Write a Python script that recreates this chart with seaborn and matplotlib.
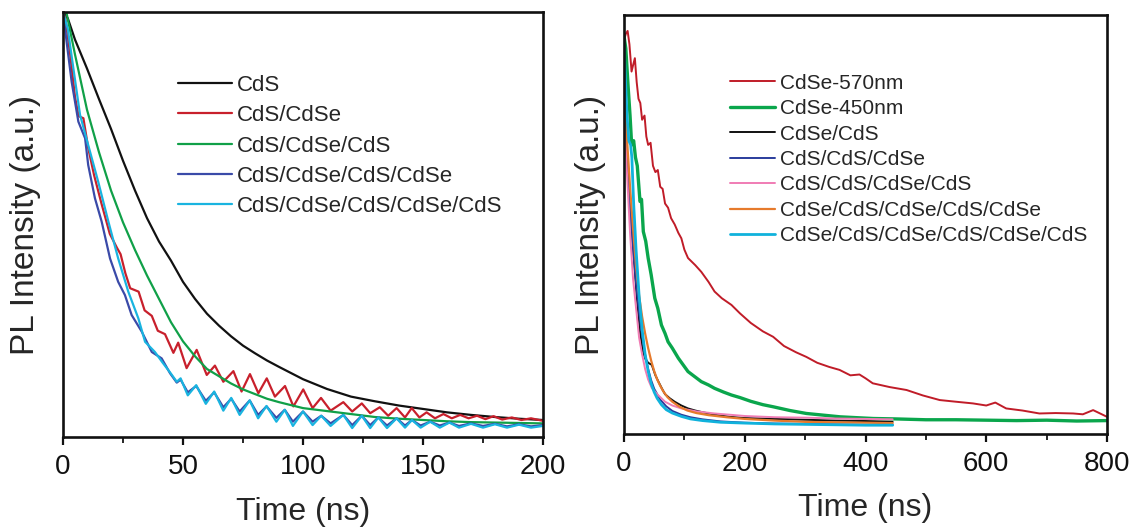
import numpy as np
import pandas as pd
import matplotlib
matplotlib.use("Agg")
import matplotlib.pyplot as plt
import seaborn as sns
from matplotlib.ticker import MultipleLocator, NullLocator

# ==============================================================
# data (intensity normalised to the axes height)
# ==============================================================
# left panel: CdS based shells, 0-200 ns
t_cds = [0, 2, 5, 10, 15, 20, 25, 30, 35, 40, 45, 50, 55, 60, 65, 70, 75, 80, 85, 90,
         100, 110, 120, 130, 140, 150, 160, 170, 180, 190, 200]
v_cds = [1.0, 0.985, 0.935, 0.867, 0.795, 0.725, 0.65, 0.58, 0.515, 0.46, 0.415, 0.365,
         0.325, 0.29, 0.262, 0.237, 0.215, 0.197, 0.18, 0.165, 0.136, 0.113, 0.095, 0.084,
         0.074, 0.066, 0.058, 0.052, 0.047, 0.043, 0.040]

t_cds_cdse = [0, 1, 3, 5, 6.5, 8.5, 10.5, 13, 16, 19.5, 22.5, 24, 26, 28, 31.5, 34, 37, 39.5,
              42.5, 46, 48, 51.5, 55.7, 59.9, 63.3, 66.8, 71, 74.4, 77.9, 81.4, 84.9, 88.3,
              92.5, 96, 100.1, 104, 107.5, 111.5, 116.8, 120.5, 124.5, 128, 132, 135.5, 139,
              142.5, 145.3, 148.5, 151.5, 155, 158.5, 162, 165.5, 169, 172.5, 176, 179.4, 183,
              187, 191, 195, 200]
v_cds_cdse = [1.0, 0.985, 0.90, 0.80, 0.755, 0.75, 0.68, 0.615, 0.55, 0.478, 0.445, 0.43,
              0.385, 0.35, 0.342, 0.298, 0.285, 0.25, 0.242, 0.198, 0.222, 0.162, 0.205, 0.146,
              0.168, 0.13, 0.155, 0.107, 0.148, 0.103, 0.138, 0.095, 0.12, 0.072, 0.112, 0.068,
              0.092, 0.062, 0.082, 0.06, 0.079, 0.056, 0.07, 0.05, 0.068, 0.046, 0.068, 0.046,
              0.058, 0.044, 0.054, 0.044, 0.052, 0.044, 0.05, 0.042, 0.049, 0.041, 0.046, 0.04,
              0.044, 0.038]

t_cds_cdse_cds = [0, 1.5, 5, 10, 15, 20, 25, 30, 35, 40, 45, 50, 55, 60, 65, 70, 75, 80, 85,
                  90, 95, 100, 110, 120, 130, 140, 150, 160, 170, 180, 190, 200]
v_cds_cdse_cds = [1.0, 0.997, 0.90, 0.77, 0.67, 0.58, 0.505, 0.44, 0.38, 0.325, 0.27, 0.225,
                  0.19, 0.16, 0.143, 0.126, 0.112, 0.101, 0.09, 0.082, 0.075, 0.068, 0.061,
                  0.054, 0.047, 0.043, 0.040, 0.037, 0.035, 0.034, 0.033, 0.032]

t_4layer = [0, 1.5, 3.6, 6.4, 9.2, 10.5, 13.3, 16.1, 19.6, 23, 25.8, 28.6, 32.8, 37, 41.1,
            44.6, 47.4, 49, 52, 55.5, 59.5, 63, 66.8, 70.1, 73.6, 77.8, 81.3, 84.8, 88.9,
            92.4, 95.8, 100, 104, 107.6, 111.5, 116.8, 120.5, 124.5, 128, 131.4, 135, 139,
            142.5, 145.4, 149, 153, 157, 161, 165, 170, 175, 180, 185, 190, 195, 200]
v_4layer = [1.0, 0.93, 0.836, 0.742, 0.703, 0.64, 0.562, 0.507, 0.42, 0.365, 0.334, 0.287,
            0.248, 0.20, 0.185, 0.15, 0.128, 0.135, 0.105, 0.12, 0.085, 0.105, 0.07, 0.09,
            0.06, 0.086, 0.052, 0.072, 0.045, 0.064, 0.036, 0.06, 0.036, 0.05, 0.032, 0.052,
            0.028, 0.05, 0.028, 0.046, 0.027, 0.044, 0.027, 0.04, 0.027, 0.036, 0.027, 0.034,
            0.026, 0.032, 0.026, 0.031, 0.025, 0.03, 0.025, 0.028]

t_5layer = [0, 2, 4, 7.1, 10.5, 14.7, 18.9, 23, 27.2, 31.4, 34.2, 38.3, 41.5, 44.6, 47.4, 49,
            52, 55.5, 59.5, 63, 66.8, 70.1, 73.6, 77.8, 81.3, 84.8, 88.9, 92.4, 95.8, 100,
            104, 107.6, 111.5, 116.8, 120.5, 124.5, 128, 131.4, 135, 139, 142.5, 145.4, 149,
            153, 157, 161, 165, 170, 175, 180, 185, 190, 195, 200]
v_5layer = [1.0, 0.96, 0.88, 0.758, 0.687, 0.60, 0.507, 0.42, 0.342, 0.279, 0.224, 0.20,
            0.175, 0.152, 0.13, 0.138, 0.098, 0.122, 0.078, 0.107, 0.062, 0.092, 0.052, 0.086,
            0.044, 0.073, 0.036, 0.064, 0.026, 0.06, 0.028, 0.05, 0.026, 0.052, 0.021, 0.05,
            0.021, 0.046, 0.021, 0.044, 0.022, 0.04, 0.022, 0.036, 0.022, 0.034, 0.022, 0.031,
            0.022, 0.03, 0.022, 0.029, 0.022, 0.026]

# right panel: CdSe based shells, 0-800 ns
t_cdse570 = [0, 3, 6, 9, 12.5, 15, 18, 21, 24, 27, 30, 34, 37, 40, 44, 48, 52, 56, 60, 64, 68,
             73, 78, 84, 90, 95, 100, 106, 118, 128, 140, 150, 162, 178, 192, 210, 230, 247,
             265, 285, 302, 320, 340, 357, 375, 390, 400, 412, 440, 468, 495, 523, 550, 578,
             600, 615, 633, 660, 688, 715, 744, 760, 777, 790, 800]
v_cdse570 = [0.94, 0.955, 0.962, 0.93, 0.865, 0.88, 0.897, 0.84, 0.80, 0.79, 0.75, 0.76, 0.71,
             0.69, 0.695, 0.64, 0.625, 0.63, 0.59, 0.585, 0.55, 0.54, 0.515, 0.50, 0.48, 0.467,
             0.44, 0.42, 0.403, 0.387, 0.363, 0.34, 0.324, 0.308, 0.288, 0.265, 0.245, 0.232,
             0.21, 0.195, 0.184, 0.17, 0.16, 0.153, 0.14, 0.142, 0.133, 0.121, 0.112, 0.105,
             0.092, 0.081, 0.077, 0.073, 0.068, 0.075, 0.061, 0.056, 0.049, 0.05, 0.049, 0.047,
             0.057, 0.048, 0.041]

t_cdse450 = [0, 3, 7, 10, 12.7, 16, 19, 22, 26.5, 29, 32, 36, 40, 45, 51, 56, 62, 68, 73, 80,
             90, 98, 106, 117, 128, 140, 150, 165, 178, 192, 210, 230, 247, 275, 302, 330, 358,
             385, 413, 450, 500, 550, 600, 650, 700, 750, 800]
v_cdse450 = [0.95, 0.92, 0.825, 0.76, 0.69, 0.70, 0.66, 0.64, 0.555, 0.56, 0.483, 0.46, 0.42,
             0.38, 0.324, 0.30, 0.26, 0.24, 0.22, 0.205, 0.181, 0.165, 0.149, 0.137, 0.125,
             0.117, 0.109, 0.10, 0.093, 0.087, 0.078, 0.07, 0.065, 0.056, 0.049, 0.045, 0.041,
             0.039, 0.037, 0.036, 0.034, 0.034, 0.033, 0.032, 0.033, 0.031, 0.032]

t_cdse_cds = [0, 2, 4.5, 10, 15.4, 21, 26.5, 31, 35, 40, 46, 52, 57, 63, 68, 76, 84, 95, 106,
              118, 130, 150, 175, 200, 250, 300, 350, 400, 445]
v_cdse_cds = [0.80, 0.72, 0.666, 0.55, 0.44, 0.33, 0.245, 0.20, 0.18, 0.17, 0.165, 0.14, 0.125,
              0.108, 0.095, 0.085, 0.077, 0.068, 0.061, 0.056, 0.052, 0.046, 0.041, 0.038,
              0.036, 0.034, 0.032, 0.031, 0.029]

t_cds_cds_cdse = [0, 3, 6, 10, 15, 20, 25, 30, 35, 40, 45, 50, 60, 70, 80, 95, 110, 130, 160,
                  200, 250, 300, 350, 400, 445]
v_cds_cds_cdse = [0.82, 0.72, 0.63, 0.54, 0.44, 0.36, 0.29, 0.235, 0.19, 0.155, 0.128, 0.108,
                  0.082, 0.066, 0.055, 0.046, 0.04, 0.035, 0.03, 0.027, 0.025, 0.024, 0.023,
                  0.022, 0.022]

t_cds_cds_cdse_cds = [0, 2, 5, 10, 15, 20, 25, 30, 35, 40, 46, 55, 68, 80, 95, 120, 150, 200,
                      250, 300, 350, 400, 445]
v_cds_cds_cdse_cds = [0.78, 0.72, 0.62, 0.48, 0.37, 0.30, 0.23, 0.19, 0.155, 0.13, 0.11, 0.095,
                      0.077, 0.068, 0.061, 0.054, 0.049, 0.043, 0.04, 0.039, 0.037, 0.036, 0.035]

t_5shell = [0, 3, 6, 10, 15, 20, 25, 30, 35, 40, 45, 50, 55, 60, 65, 72, 80, 92, 105, 120, 140,
            170, 200, 250, 300, 350, 400, 445]
v_5shell = [0.85, 0.75, 0.68, 0.59, 0.49, 0.40, 0.33, 0.28, 0.24, 0.205, 0.175, 0.15, 0.13,
            0.115, 0.102, 0.088, 0.077, 0.065, 0.056, 0.05, 0.045, 0.04, 0.036, 0.032, 0.029,
            0.028, 0.027, 0.026]

t_6shell = [0, 2, 5, 8, 11, 13, 16, 20, 25, 30, 35, 40, 45, 50, 55, 62, 70, 80, 95, 110, 130,
            160, 200, 250, 300, 350, 400, 445]
v_6shell = [0.93, 0.86, 0.76, 0.70, 0.69, 0.66, 0.55, 0.44, 0.33, 0.25, 0.19, 0.15, 0.12, 0.10,
            0.085, 0.07, 0.058, 0.05, 0.042, 0.036, 0.032, 0.028, 0.026, 0.024, 0.023, 0.022,
            0.021, 0.021]

left_series = [
    ("CdS", t_cds, v_cds, "#111111", 1.6),
    ("CdS/CdSe", t_cds_cdse, v_cds_cdse, "#c8202c", 1.6),
    ("CdS/CdSe/CdS", t_cds_cdse_cds, v_cds_cdse_cds, "#10a048", 1.6),
    ("CdS/CdSe/CdS/CdSe", t_4layer, v_4layer, "#3a4aa8", 1.6),
    ("CdS/CdSe/CdS/CdSe/CdS", t_5layer, v_5layer, "#19b4e0", 1.6),
]
right_series = [
    ("CdSe-570nm", t_cdse570, v_cdse570, "#c01c28", 1.4),
    ("CdSe-450nm", t_cdse450, v_cdse450, "#0aa64c", 2.4),
    ("CdSe/CdS", t_cdse_cds, v_cdse_cds, "#111111", 1.4),
    ("CdS/CdS/CdSe", t_cds_cds_cdse, v_cds_cds_cdse, "#2a3c9c", 1.4),
    ("CdS/CdS/CdSe/CdS", t_cds_cds_cdse_cds, v_cds_cds_cdse_cds, "#f07cb4", 1.4),
    ("CdSe/CdS/CdSe/CdS/CdSe", t_5shell, v_5shell, "#e67a2c", 1.6),
    ("CdSe/CdS/CdSe/CdS/CdSe/CdS", t_6shell, v_6shell, "#10b2dc", 2.0),
]

# ==============================================================
# style
# ==============================================================
sns.set_style("ticks")
plt.rcParams["font.family"] = ["Liberation Sans", "DejaVu Sans"]
plt.rcParams["axes.linewidth"] = 1.9

fig = plt.figure(figsize=(11.32, 5.29), dpi=100)
ax_l = fig.add_axes([63 / 1132, 1 - 437 / 529, 480 / 1132, 425 / 529])
ax_r = fig.add_axes([624 / 1132, 1 - 434 / 529, 483 / 1132, 419 / 529])


def draw_panel(ax, series, xmax, major, minor, legend_fs, legend_anchor, hlen, lspace):
    for name, t, v, color, lw in series:
        df = pd.DataFrame({"t": t, "v": v})
        sns.lineplot(data=df, x="t", y="v", ax=ax, color=color, linewidth=lw,
                     label=name, estimator=None, sort=False)
    ax.set_xlim(0, xmax)
    ax.set_ylim(0, 1)
    ax.xaxis.set_major_locator(MultipleLocator(major))
    ax.xaxis.set_minor_locator(MultipleLocator(minor))
    ax.yaxis.set_major_locator(NullLocator())
    ax.tick_params(axis="x", which="major", direction="out", length=6, width=1.6,
                   labelsize=20, pad=6, colors="#111111")
    ax.tick_params(axis="x", which="minor", direction="out", length=4, width=1.4)
    for s in ax.spines.values():
        s.set_visible(True)
        s.set_color("#111111")
    ax.set_xlabel("Time (ns)", fontsize=23)
    ax.set_ylabel("PL Intensity (a.u.)", fontsize=24)
    ax.xaxis.set_label_coords(0.5, -0.142)
    ax.legend(loc="upper left", bbox_to_anchor=legend_anchor, frameon=False,
              fontsize=legend_fs, handlelength=hlen, handletextpad=0.25,
              labelspacing=lspace, borderpad=0, borderaxespad=0)


draw_panel(ax_l, left_series, 200, 50, 25, 16, (0.24, 0.852), 2.4, 0.42)
draw_panel(ax_r, right_series, 800, 200, 100, 15, (0.219, 0.86), 2.15, 0.31)
ax_l.yaxis.set_label_coords(-0.045, 0.5)
ax_r.yaxis.set_label_coords(-0.038, 0.5)

fig.savefig("out.png", dpi=100)
